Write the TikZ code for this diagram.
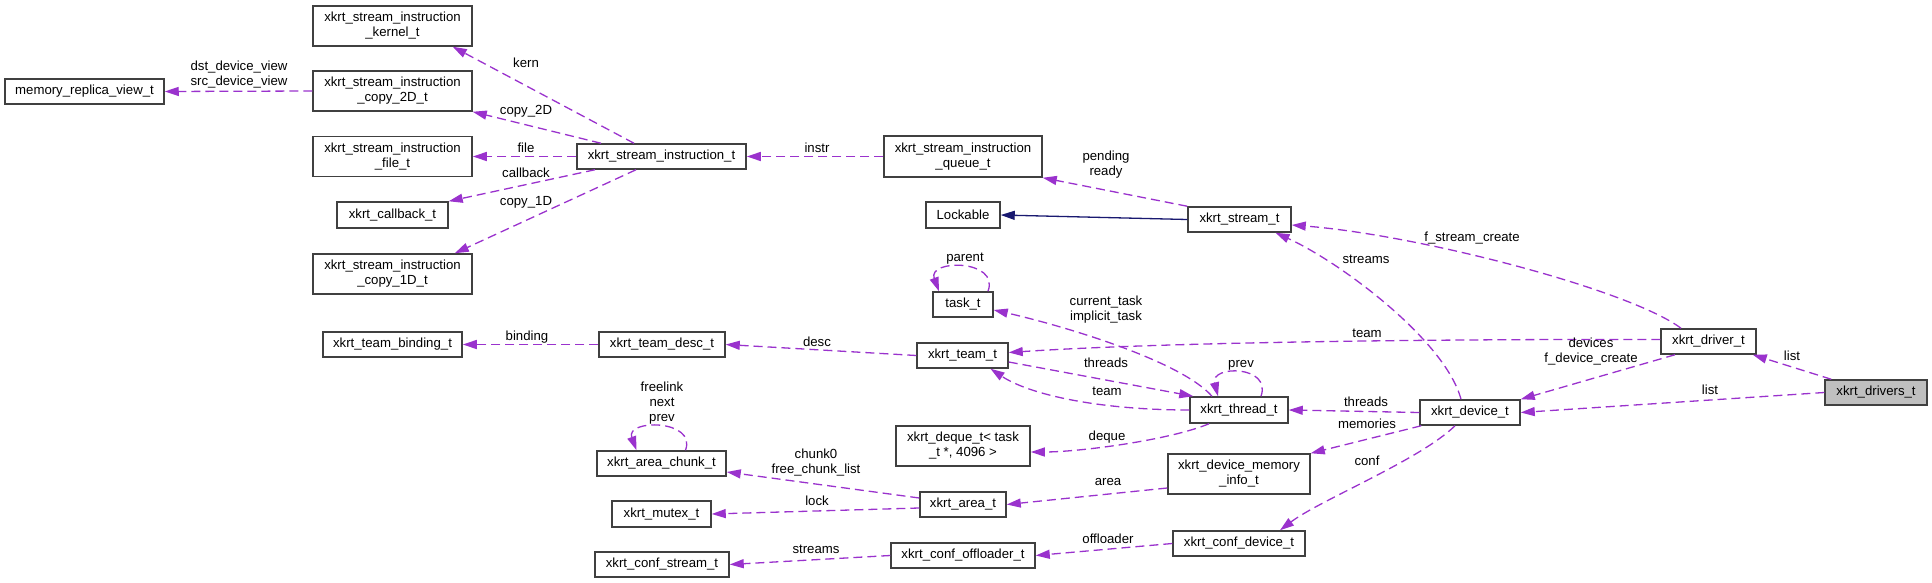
\documentclass[tikz,border=0pt]{standalone}
\usepackage{fontspec}
\setmainfont{Liberation Sans}
\usetikzlibrary{arrows.meta}
\definecolor{usecol}{HTML}{9A32CD}
\definecolor{inhcol}{HTML}{191970}
\definecolor{boxline}{HTML}{404040}
\definecolor{rootfill}{HTML}{BFBFBF}

\begin{document}
\begin{tikzpicture}[x=1pt,y=-1pt,
  font=\fontsize{13.2}{15}\selectfont,
  cls/.style={draw=boxline, fill=white, line width=1.5pt, inner sep=0pt, align=center},
  rel/.style={draw=usecol, line width=1.3pt, dash pattern=on 9pt off 5pt, -{Triangle[length=14pt,width=9pt]}},
  inh/.style={draw=inhcol, line width=1.3pt, -{Triangle[length=14pt,width=9pt]}},
  lbl/.style={inner sep=0pt, align=center}]
\useasboundingbox (0,0) rectangle (1932,583);
\node[cls, minimum width=159pt, minimum height=25pt] (memview) at (84.5,91.5) {memory\_replica\_view\_t};
\node[cls, minimum width=159pt, minimum height=40pt] (kern) at (392.5,26) {xkrt\_stream\_instruction\\\_kernel\_t};
\node[cls, minimum width=159pt, minimum height=40pt] (copytwo) at (392.5,91) {xkrt\_stream\_instruction\\\_copy\_2D\_t};
\node[cls, minimum width=159pt, minimum height=40pt] (fileinstr) at (392.5,156.5) {xkrt\_stream\_instruction\\\_file\_t};
\node[cls, minimum width=111pt, minimum height=26pt] (callback) at (392.5,215) {xkrt\_callback\_t};
\node[cls, minimum width=159pt, minimum height=40pt] (copyone) at (392.5,274) {xkrt\_stream\_instruction\\\_copy\_1D\_t};
\node[cls, minimum width=139pt, minimum height=25pt] (binding) at (392.5,344.5) {xkrt\_team\_binding\_t};
\node[cls, minimum width=169pt, minimum height=25pt] (instr) at (661.5,156.5) {xkrt\_stream\_instruction\_t};
\node[cls, minimum width=126pt, minimum height=25pt] (teamdesc) at (662,344.5) {xkrt\_team\_desc\_t};
\node[cls, minimum width=129pt, minimum height=25pt] (chunk) at (661.5,463.5) {xkrt\_area\_chunk\_t};
\node[cls, minimum width=99pt, minimum height=26pt] (mutex) at (661.5,514) {xkrt\_mutex\_t};
\node[cls, minimum width=134pt, minimum height=25pt] (confstream) at (662,564.5) {xkrt\_conf\_stream\_t};
\node[cls, minimum width=158pt, minimum height=41pt] (queue) at (963,156.5) {xkrt\_stream\_instruction\\\_queue\_t};
\node[cls, minimum width=74pt, minimum height=26pt] (lockable) at (963,215) {Lockable};
\node[cls, minimum width=60pt, minimum height=25pt] (task) at (963,304.5) {task\_t};
\node[cls, minimum width=91pt, minimum height=25pt] (team) at (962.5,355.5) {xkrt\_team\_t};
\node[cls, minimum width=134pt, minimum height=40pt] (deque) at (963,446) {xkrt\_deque\_t< task\\\_t *, 4096 >};
\node[cls, minimum width=86pt, minimum height=25pt] (area) at (963,504.5) {xkrt\_area\_t};
\node[cls, minimum width=144pt, minimum height=25pt] (confoff) at (963,555.5) {xkrt\_conf\_offloader\_t};
\node[cls, minimum width=103pt, minimum height=25pt] (stream) at (1239.5,219.5) {xkrt\_stream\_t};
\node[cls, minimum width=98pt, minimum height=26pt] (thread) at (1239,410) {xkrt\_thread\_t};
\node[cls, minimum width=142pt, minimum height=40pt] (meminfo) at (1239,474) {xkrt\_device\_memory\\\_info\_t};
\node[cls, minimum width=132pt, minimum height=25pt] (confdev) at (1239,543.5) {xkrt\_conf\_device\_t};
\node[cls, minimum width=100pt, minimum height=25pt] (device) at (1470,412.5) {xkrt\_device\_t};
\node[cls, minimum width=95pt, minimum height=25pt] (driver) at (1708.5,341.5) {xkrt\_driver\_t};
\node[cls, fill=rootfill, minimum width=102pt, minimum height=25pt] (drivers) at (1876,392.5) {xkrt\_drivers\_t};

\draw[rel] (copytwo.west) -- (memview.east);
\draw[rel] ([xshift=-27.5pt]instr.north) -- ([xshift=-20pt]kern.south east);
\draw[rel] ([xshift=-60.5pt]instr.north) -- (copytwo.south east);
\draw[rel] (instr.west) -- (fileinstr.east);
\draw[rel] ([xshift=-66.5pt]instr.south) -- (callback.north east);
\draw[rel] ([xshift=-25.5pt]instr.south) -- ([xshift=-18pt]copyone.north east);
\draw[rel] (queue.west) -- (instr.east);
\draw[rel] (stream.north west) -- (queue.south east);
\draw[inh] (stream.west) -- (lockable.east);
\draw[rel] ([xshift=25pt]task.north) .. controls (1000,259) and (927,259) .. ([xshift=-24pt]task.north);
\draw[rel] (teamdesc.west) -- (binding.east);
\draw[rel] (team.west) -- (teamdesc.east);
\draw[rel] ([xshift=-27pt]thread.north) .. controls (1180,360) and (1060,325) .. ([yshift=-5.5pt]task.east);
\draw[rel] ([yshift=-6.5pt]team.east) -- ([xshift=4pt]thread.north west);
\draw[rel] (thread.west) .. controls (1100,410) and (1030,395) .. ([xshift=28pt]team.south);
\draw[rel] ([xshift=22pt]thread.north) .. controls (1272,365) and (1210,365) .. ([xshift=-21pt]thread.north);
\draw[rel] ([xshift=24pt]chunk.north) .. controls (697,419) and (625,419) .. ([xshift=-25pt]chunk.north);
\draw[rel] ([xshift=-30pt]thread.south) .. controls (1170,440) and (1080,452) .. ([yshift=-6pt]deque.east);
\draw[rel] ([yshift=6.5pt]area.west) -- ([yshift=-8.5pt]chunk.east);
\draw[rel] ([yshift=-3.5pt]area.west) -- (mutex.east);
\draw[rel] ([yshift=-14pt]meminfo.west) -- (area.east);
\draw[rel] (confoff.west) -- (confstream.east);
\draw[rel] (confdev.west) -- (confoff.east);
\draw[rel] ([xshift=-9pt]device.north) .. controls (1445,340) and (1340,262) .. ([xshift=36pt]stream.south);
\draw[rel] ([xshift=-27.5pt]driver.north) .. controls (1630,290) and (1420,235) .. ([yshift=-5.5pt]stream.east);
\draw[rel] ([yshift=2pt]driver.west) .. controls (1400,339) and (1150,343) .. ([yshift=3pt]team.east);
\draw[rel] ([xshift=-33.5pt]driver.south) -- (device.north east);
\draw[rel] (device.west) -- (thread.east);
\draw[rel] ([xshift=2pt]device.south west) -- (meminfo.north east);
\draw[rel] ([xshift=-15pt]device.south) .. controls (1420,460) and (1320,500) .. ([xshift=41pt]confdev.north);
\draw[rel] ([xshift=7pt]drivers.north west) -- ([xshift=-4pt]driver.south east);
\draw[rel] (drivers.west) -- (device.east);

\node[lbl] (lview) at (239,75) {dst\_device\_view\\src\_device\_view};
\node[lbl] (lkern) at (526,63) {kern};
\node[lbl] (lcopytwo) at (526,111) {copy\_2D};
\node[lbl] (lfile) at (526,148) {file};
\node[lbl] (lcallback) at (526,173) {callback};
\node[lbl] (lcopyone) at (526,202) {copy\_1D};
\node[lbl] (linstr) at (817,148) {instr};
\node[lbl] (lpending) at (1106,165) {pending\\ready};
\node[lbl] (lparent) at (965,259) {parent};
\node[lbl] (lbinding) at (527,337) {binding};
\node[lbl] (ldesc) at (817,342) {desc};
\node[lbl] (ltask) at (1106,310) {current\_task\\implicit\_task};
\node[lbl] (lthreads) at (1106,363) {threads};
\node[lbl] (lteam) at (1107,391) {team};
\node[lbl] (lprev) at (1241,365) {prev};
\node[lbl] (lchunk) at (662,403) {freelink\\next\\prev};
\node[lbl] (ldeque) at (1107,437) {deque};
\node[lbl] (lchunks) at (816,463) {chunk0\\free\_chunk\_list};
\node[lbl] (llock) at (817,501) {lock};
\node[lbl] (larea) at (1108,482) {area};
\node[lbl] (lconfstreams) at (816,549) {streams};
\node[lbl] (loffloader) at (1108,539) {offloader};
\node[lbl] (lstreams) at (1366,259) {streams};
\node[lbl] (lcreate) at (1472,238) {f\_stream\_create};
\node[lbl] (ldriverteam) at (1367,333) {team};
\node[lbl] (ldevices) at (1591,352) {devices\\f\_device\_create};
\node[lbl] (ldevthreads) at (1366,402) {threads};
\node[lbl] (lmemories) at (1367,424) {memories};
\node[lbl] (lconf) at (1367,461) {conf};
\node[lbl] (llistdriver) at (1792,356) {list};
\node[lbl] (llistdevice) at (1710,390) {list};
\end{tikzpicture}
\end{document}
